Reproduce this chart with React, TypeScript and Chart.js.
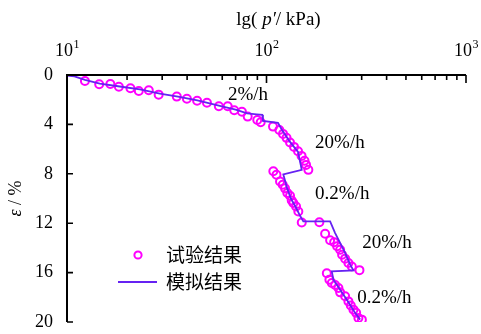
import React, { useEffect, useRef } from 'react';
import { Chart, registerables } from 'chart.js';

Chart.register(...registerables);

// Experimental points: p' (kPa) and strain ε (%)
const expP = [
  12.3, 14.5, 16.5, 18.2, 20.8, 22.9, 25.7, 28.8, 35.5, 39.9, 44.9, 50.3, 57.7, 63.9, 68.9, 75.3, 80.5, 89.9, 93.5,
  107.8, 116.0, 121.0, 126.0, 131.2, 137.4, 143.9, 149.9, 155.1, 157.9, 162.1,
  108.2, 112.2, 116.9, 120.6, 123.8, 127.2, 131.2, 133.8, 136.3, 140.7, 144.4, 150.2, 184.1,
  196.7, 208.4, 218.3, 225.9, 233.9, 239.3, 247.8, 257.4, 267.7, 292.4,
  200.6, 206.7, 212.5, 220.8, 229.4, 233.9, 247.8, 257.4, 264.6, 272.8, 281.4, 288.9, 300.6,
];
const expE = [
  0.49, 0.75, 0.73, 0.95, 1.08, 1.29, 1.24, 1.59, 1.75, 1.92, 2.08, 2.24, 2.53, 2.53, 2.85, 2.97, 3.37, 3.64, 3.82,
  4.18, 4.45, 4.77, 5.09, 5.46, 5.82, 6.18, 6.55, 6.95, 7.28, 7.68,
  7.8, 8.08, 8.63, 8.89, 9.18, 9.56, 9.78, 10.16, 10.37, 10.65, 11.05, 11.94, 11.92,
  12.85, 13.38, 13.54, 13.86, 14.15, 14.55, 14.87, 15.22, 15.5, 15.8,
  16.05, 16.57, 16.84, 17.0, 17.24, 17.6, 17.92, 18.33, 18.67, 19.0, 19.26, 19.67, 19.81,
];

// Simulated curve
const simP = [
  10, 10.9, 12.3, 14.6, 18.4, 23.2, 29.2, 36, 45, 57, 70, 80, 89.3, 95.3, 96, 114.2,
  119.6, 131.2, 143.9, 150.2, 121.4, 126.7, 132.7, 140.7, 147.3, 153, 208.4,
  220.8, 233.9, 247.8, 262.6, 272.8, 212.5, 216.4, 233.9, 252.7, 278.2, 294.7,
];
const simE = [
  0.04, 0.12, 0.4, 0.69, 0.93, 1.17, 1.5, 1.75, 2.05, 2.45, 2.8, 3.1, 3.18, 3.23, 3.72, 3.88,
  4.45, 5.42, 6.22, 7.68, 8.04, 9.14, 10.02, 10.75, 11.4, 11.86, 11.86,
  12.8, 13.6, 14.41, 15.36, 15.82, 15.9, 16.57, 17.38, 18.19, 19.26, 19.81,
];

const xTickValues = [10, 100, 1000];
const xTickBase = '10';
const xTickExponents = ['1', '2', '3'];
const yTickValues = [0, 4, 8, 12, 16, 20];

const rateLabels = ['2%/h', '20%/h', '0.2%/h', '20%/h', '0.2%/h'];
const rateLabelP = [64.1, 175.2, 175.2, 301.6, 284.7];
const rateLabelE = [1.62, 5.47, 9.62, 13.58, 18.03];

const legendLabels = ['试验结果', '模拟结果'];

const EXP_COLOR = '#FF00FF';
const SIM_COLOR = '#6622F2';
const SERIF = '"Liberation Serif", "Times New Roman", serif';
const CJK = '"Noto Sans CJK SC", sans-serif';

const decorPlugin = {
  id: 'decor',
  afterDraw(chart: any) {
    const ctx = chart.ctx as CanvasRenderingContext2D;
    const xs = chart.scales.x;
    const ys = chart.scales.y;
    const area = chart.chartArea;
    ctx.save();
    ctx.strokeStyle = '#000';
    ctx.fillStyle = '#000';

    // axis lines
    ctx.lineWidth = 2;
    ctx.beginPath();
    ctx.moveTo(area.left - 1, area.top);
    ctx.lineTo(area.right, area.top);
    ctx.moveTo(area.left, area.top);
    ctx.lineTo(area.left, area.bottom);
    ctx.stroke();

    // x ticks (inside, downward)
    ctx.lineWidth = 1.6;
    ctx.beginPath();
    for (let d = 10; d < 1000; d *= 10) {
      for (let k = 2; k <= 9; k++) {
        const px = xs.getPixelForValue(k * d);
        ctx.moveTo(px, area.top);
        ctx.lineTo(px, area.top + 5);
      }
    }
    xTickValues.forEach((v) => {
      const px = xs.getPixelForValue(v);
      ctx.moveTo(px, area.top);
      ctx.lineTo(px, area.top + 8);
    });
    // y ticks (inside, rightward)
    yTickValues.forEach((v) => {
      const py = ys.getPixelForValue(v);
      ctx.moveTo(area.left, py);
      ctx.lineTo(area.left + 6, py);
    });
    ctx.stroke();

    // x tick labels 10^n
    ctx.textBaseline = 'alphabetic';
    ctx.textAlign = 'left';
    xTickValues.forEach((v, i) => {
      const px = xs.getPixelForValue(v);
      ctx.font = `18px ${SERIF}`;
      const bw = ctx.measureText(xTickBase).width;
      ctx.font = `12px ${SERIF}`;
      const ew = ctx.measureText(xTickExponents[i]).width;
      const x0 = px - (bw + ew) / 2;
      ctx.font = `18px ${SERIF}`;
      ctx.fillText(xTickBase, x0, 56);
      ctx.font = `12px ${SERIF}`;
      ctx.fillText(xTickExponents[i], x0 + bw + 0.5, 48);
    });

    // x axis title: lg( p′/ kPa)
    ctx.textBaseline = 'middle';
    const parts: [string, boolean][] = [['lg( ', false], ['p′', true], ['/ kPa)', false]];
    const tfs = 19;
    let total = 0;
    parts.forEach(([t, it]) => {
      ctx.font = `${it ? 'italic ' : ''}${tfs}px ${SERIF}`;
      total += ctx.measureText(t).width;
    });
    let tx = (area.left + area.right) / 2 - total / 2 + 12;
    parts.forEach(([t, it]) => {
      ctx.font = `${it ? 'italic ' : ''}${tfs}px ${SERIF}`;
      ctx.textAlign = 'left';
      ctx.fillText(t, tx, 20);
      tx += ctx.measureText(t).width;
    });

    // y axis title: ε / %
    ctx.save();
    ctx.translate(16, (area.top + area.bottom) / 2);
    ctx.rotate(-Math.PI / 2);
    const yparts: [string, boolean][] = [['ε', true], [' / %', false]];
    let ytotal = 0;
    yparts.forEach(([t, it]) => {
      ctx.font = `${it ? 'italic ' : ''}18px ${SERIF}`;
      ytotal += ctx.measureText(t).width;
    });
    let yx = -ytotal / 2;
    yparts.forEach(([t, it]) => {
      ctx.font = `${it ? 'italic ' : ''}18px ${SERIF}`;
      ctx.textAlign = 'left';
      ctx.fillText(t, yx, 0);
      yx += ctx.measureText(t).width;
    });
    ctx.restore();

    // rate annotations
    ctx.font = `19px ${SERIF}`;
    ctx.textAlign = 'left';
    ctx.textBaseline = 'middle';
    rateLabels.forEach((t, i) => {
      ctx.fillText(t, xs.getPixelForValue(rateLabelP[i]), ys.getPixelForValue(rateLabelE[i]));
    });

    // legend
    const lx = area.left + 71;
    const ly1 = area.top + 180;
    const ly2 = area.top + 207;
    ctx.strokeStyle = EXP_COLOR;
    ctx.lineWidth = 2;
    ctx.beginPath();
    ctx.arc(lx, ly1, 3.6, 0, Math.PI * 2);
    ctx.stroke();
    ctx.strokeStyle = SIM_COLOR;
    ctx.lineWidth = 2;
    ctx.beginPath();
    ctx.moveTo(lx - 20, ly2);
    ctx.lineTo(lx + 19, ly2);
    ctx.stroke();
    ctx.fillStyle = '#000';
    ctx.font = `19px ${CJK}`;
    ctx.textAlign = 'left';
    ctx.fillText(legendLabels[0], lx + 28, ly1);
    ctx.fillText(legendLabels[1], lx + 28, ly2);

    ctx.restore();
  },
};

export default function App() {
  const canvasRef = useRef<HTMLCanvasElement | null>(null);

  useEffect(() => {
    if (!canvasRef.current) return;
    const chart = new Chart(canvasRef.current, {
      type: 'scatter',
      data: {
        datasets: [
          {
            label: legendLabels[1],
            data: simP.map((p, i) => ({ x: p, y: simE[i] })),
            showLine: true,
            borderColor: SIM_COLOR,
            borderWidth: 1.8,
            pointRadius: 0,
            tension: 0,
            order: 0,
          },
          {
            label: legendLabels[0],
            data: expP.map((p, i) => ({ x: p, y: expE[i] })),
            showLine: false,
            pointStyle: 'circle',
            pointRadius: 4,
            pointBorderWidth: 2,
            pointBorderColor: EXP_COLOR,
            pointBackgroundColor: 'rgba(0,0,0,0)',
            borderColor: EXP_COLOR,
            backgroundColor: 'rgba(0,0,0,0)',
            order: 1,
          },
        ],
      },
      options: {
        animation: false,
        responsive: true,
        maintainAspectRatio: false,
        layout: { padding: { left: 0, top: 0, right: 15, bottom: 12 } },
        plugins: {
          legend: { display: false },
          tooltip: { enabled: false },
        },
        scales: {
          x: {
            type: 'logarithmic',
            position: 'top',
            min: 10,
            max: 1000,
            grid: { display: false, drawTicks: false },
            border: { display: false },
            afterBuildTicks: (scale: any) => {
              scale.ticks = xTickValues.map((v) => ({ value: v }));
            },
            afterFit: (scale: any) => {
              scale.height = 75;
              scale.paddingLeft = 0;
              scale.paddingRight = 0;
              scale.paddingTop = 0;
              scale.paddingBottom = 0;
            },
            ticks: { display: false },
          },
          y: {
            type: 'linear',
            reverse: true,
            min: 0,
            max: 20,
            grid: { display: false, drawTicks: false },
            border: { display: false },
            afterBuildTicks: (scale: any) => {
              scale.ticks = yTickValues.map((v) => ({ value: v }));
            },
            afterFit: (scale: any) => {
              scale.width = 67;
              scale.paddingLeft = 0;
              scale.paddingRight = 0;
              scale.paddingTop = 0;
              scale.paddingBottom = 0;
            },
            ticks: {
              padding: 14,
              color: '#000',
              font: { family: SERIF, size: 18 },
            },
          },
        },
      },
      plugins: [decorPlugin],
    } as any);
    return () => chart.destroy();
  }, []);

  return (
    <div style={{ position: 'absolute', left: 0, top: 0, width: 481, height: 334, background: '#fff' }}>
      <canvas ref={canvasRef} />
    </div>
  );
}
